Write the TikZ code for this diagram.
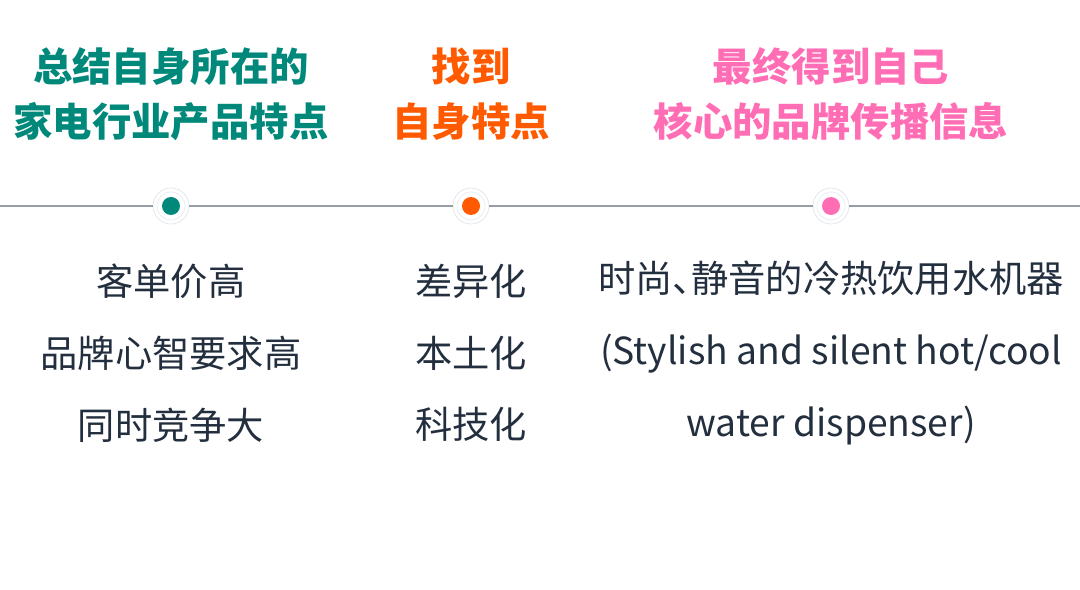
\documentclass[tikz,border=0pt]{standalone}
\usepackage{fontspec}
\usepackage{tikz}
\usepackage{xcolor}
\usetikzlibrary{positioning}
\setmainfont{Noto Sans CJK SC}
\definecolor{tealgreen}{RGB}{0, 137, 123}
\definecolor{brightorange}{RGB}{255, 90, 0}
\definecolor{hotpink}{RGB}{255, 110, 180}
\definecolor{inkgray}{RGB}{35, 47, 62}
\definecolor{railgray}{RGB}{150, 158, 168}
\definecolor{ringgray}{RGB}{228, 232, 238}

\begin{document}
\begin{tikzpicture}[
  x=0.025cm, y=-0.025cm,
  heading/.style={align=center, font=\fontsize{28pt}{39pt}\selectfont\bfseries},
  body/.style={align=center, text=inkgray, font=\fontsize{26.5pt}{51pt}\selectfont},
  ring/.style={circle, draw=ringgray, line width=0.6pt, fill=white, minimum size=36*0.025cm, inner sep=0pt},
  rail/.style={draw=railgray, line width=1.2pt}
]
  \useasboundingbox (0,0) rectangle (1080,590);

  % Headings
  \node[heading, text=tealgreen] (h1) at (171,94) {总结自身所在的\\家电行业产品特点};
  \node[heading, text=brightorange] (h2) at (471,94) {找到\\自身特点};
  \node[heading, text=hotpink] (h3) at (831,94) {最终得到自己\\核心的品牌传播信息};

  % Timeline
  \coordinate (lstart) at (0,206);
  \coordinate (lend) at (1080,206);
  \node[ring] (d1) at (171,206) {};
  \node[ring] (d2) at (471,206) {};
  \node[ring] (d3) at (831,206) {};
  \draw[rail] (lstart) -- (d1) -- (d2) -- (d3) -- (lend);

  % Dots
  \foreach \d/\c in {d1/tealgreen, d2/brightorange, d3/hotpink} {
    \draw[ringgray, line width=0.4pt] (\d) circle (14*0.025cm);
    \fill[\c] (\d) circle (9*0.025cm);
  }

  % Details
  \node[body] (b1) at (171,353) {客单价高\\品牌心智要求高\\同时竞争大};
  \node[body] (b2) at (471,353) {差异化\\本土化\\科技化};
  \node[body] (b3) at (831,353) {时尚、\kern-0.5em 静音的冷热饮用水机器\\(Stylish and silent hot/cool\\water dispenser)};
\end{tikzpicture}
\end{document}
